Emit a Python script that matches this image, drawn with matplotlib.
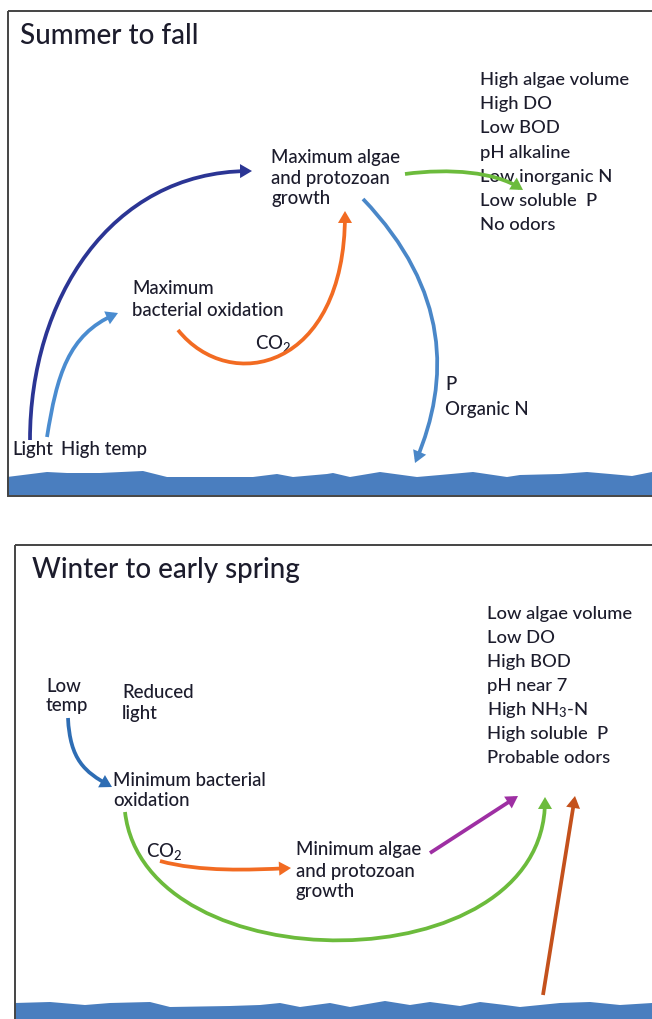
import matplotlib
matplotlib.use("Agg")
import matplotlib.pyplot as plt
from matplotlib.patches import Rectangle, Polygon, FancyArrowPatch
from matplotlib.path import Path

FONT = "Lato"
plt.rcParams['font.family'] = [FONT, 'DejaVu Sans']
plt.rcParams['mathtext.fontset'] = 'custom'
plt.rcParams['mathtext.rm'] = FONT
plt.rcParams['mathtext.it'] = FONT + ':italic'

# ---------------- content ----------------
top_title = "Summer to fall"
top_list = ["High algae volume", "High DO", "Low BOD", "pH alkaline",
            "Low inorganic N", "Low soluble  P", "No odors"]
# (text, x, y of line centre)
top_labels = [
    ("Maximum algae", 271, 157), ("and protozoan", 271, 178), ("growth", 271, 198),
    ("Maximum", 132, 289), ("bacterial oxidation", 132, 310),
    ("CO$_\\mathregular{2}$", 255, 343),
    ("P", 445, 384), ("Organic N", 445, 409),
    ("Light", 12, 450), ("High temp", 61, 450),
]
bot_title = "Winter to early spring"
bot_list = ["Low algae volume", "Low DO", "High BOD", "pH near 7",
            "High NH$_\\mathregular{3}$-N", "High soluble  P", "Probable odors"]
bot_labels = [
    ("Low", 46, 687), ("temp", 46, 705),
    ("Reduced", 122, 693), ("light", 122, 714),
    ("Minimum bacterial", 113, 780), ("oxidation", 113, 801),
    ("CO$_\\mathregular{2}$", 146, 852),
    ("Minimum algae", 296, 850), ("and protozoan", 296, 871), ("growth", 296, 891),
]

# arrows: (control points, colour) -- cubic Bezier (4 points) or straight (2 points)
top_arrows = [
    ([(30, 440), (30, 300), (110, 172), (252, 171)], "#2b3594"),
    ([(47, 437), (57, 375), (68, 335), (118, 313)], "#4a8cd0"),
    ([(178, 330), (230, 395), (345, 370), (345, 211)], "#f26b22"),
    ([(405, 174), (450, 168), (495, 172), (523, 190)], "#6cbb3c"),
    ([(363, 199), (450, 290), (450, 380), (415, 463)], "#4a87c8"),
]
bot_arrows = [
    ([(68, 718), (70, 760), (85, 772), (112, 787)], "#2e6db4"),
    ([(125, 812), (145, 985), (545, 985), (545, 797)], "#6cbb3c"),
    ([(160, 861), (200, 872), (250, 870), (291, 868)], "#f26b22"),
    ([(430, 853), (518, 796)], "#9e2fa3"),
    ([(543, 995), (575, 796)], "#c4511c"),
]

# decorative water surface outlines
top_wave_x = [7, 47, 67, 100, 143, 167, 217, 253, 277, 293, 327, 333, 350, 380, 417,
              440, 473, 507, 520, 560, 587, 610, 632, 652]
top_wave_y = [477, 472, 473, 473, 471, 477, 477, 477, 474, 477, 474, 473, 477, 472, 477,
              475, 472, 477, 475, 474, 472, 474, 476, 472]
bot_wave_x = [15, 50, 85, 110, 150, 170, 230, 260, 280, 300, 330, 350, 385, 410, 430,
              460, 480, 505, 520, 560, 590, 620, 652]
bot_wave_y = [1003, 1002, 1005, 1003, 1002, 1007, 1006, 1005, 1003, 1007, 1003, 1007, 1001,
              1005, 1002, 1006, 1002, 1005, 1007, 1003, 1002, 1005, 1003]

TEXT_C = "#1c1c2c"
WATER_C = "#4a7ebf"

fig = plt.figure(figsize=(6.52, 10.19), dpi=100)
ax = fig.add_axes([0, 0, 1, 1])
ax.set_xlim(0, 652)
ax.set_ylim(1019, 0)
ax.axis('off')

# panels
ax.add_patch(Rectangle((7.5, 11), 660, 484.5, fill=False, ec="#444444", lw=1.4, zorder=5))
ax.add_patch(Rectangle((15, 544.5), 660, 500, fill=False, ec="#444444", lw=1.4, zorder=5))

# water
ax.add_patch(Polygon(list(zip(top_wave_x, top_wave_y)) + [(652, 495), (7, 495)],
                     closed=True, fc=WATER_C, ec='none', zorder=2))
ax.add_patch(Polygon(list(zip(bot_wave_x, bot_wave_y)) + [(652, 1019), (15, 1019)],
                     closed=True, fc=WATER_C, ec='none', zorder=2))

TITLE_FS = 20
LIST_FS = 13.2
LABEL_FS = 13.4
WEIGHT = 'medium'


def put_list(items, x, y0, dy):
    for i, s in enumerate(items):
        ax.text(x, y0 + i * dy, s, fontsize=LIST_FS, color=TEXT_C, va='center',
                ha='left', fontweight=WEIGHT)


def put_labels(labels):
    for s, x, y in labels:
        ax.text(x, y, s, fontsize=LABEL_FS, color=TEXT_C, va='center', ha='left',
                fontweight=WEIGHT)


def put_arrows(arrows):
    for pts, c in arrows:
        if len(pts) == 4:
            path = Path(pts, [Path.MOVETO, Path.CURVE4, Path.CURVE4, Path.CURVE4])
        else:
            path = Path(pts, [Path.MOVETO, Path.LINETO])
        a = FancyArrowPatch(path=path, arrowstyle="-|>,head_length=4.6,head_width=2.7",
                            color=c, lw=2.7, zorder=4, shrinkA=0, shrinkB=0,
                            joinstyle='miter', capstyle='butt')
        ax.add_patch(a)


ax.text(20, 36, top_title, fontsize=TITLE_FS, color=TEXT_C, va='center', ha='left',
        fontweight=WEIGHT)
put_list(top_list, 480, 80, 24.2)
put_labels(top_labels)
put_arrows(top_arrows)

ax.text(32, 570, bot_title, fontsize=TITLE_FS, color=TEXT_C, va='center', ha='left',
        fontweight=WEIGHT)
put_list(bot_list, 487, 614, 24.0)
put_labels(bot_labels)
put_arrows(bot_arrows)

fig.savefig("out.png", dpi=100, facecolor='white')
